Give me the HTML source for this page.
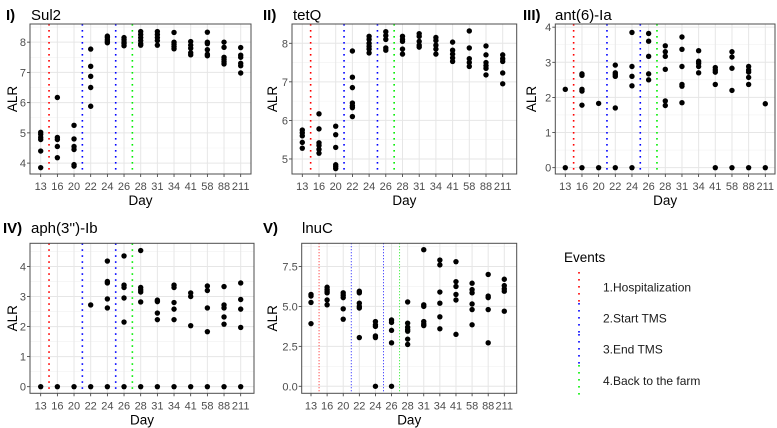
<!DOCTYPE html>
<html><head><meta charset="utf-8">
<style>
html,body{margin:0;padding:0;background:#fff;}
svg{display:block;font-family:"Liberation Sans",sans-serif;}
</style></head>
<body>
<svg id="chart" width="777" height="428" viewBox="0 0 777 428"></svg>
<script>
const days = ["13","16","20","22","24","26","28","31","34","41","58","88","211"];
const eventNames = ["1.Hospitalization","2.Start TMS","3.End TMS","4.Back to the farm"];
const eventPositions = [0.5, 2.5, 4.5, 5.5];
const eventColors = ["#ff0000","#0000ff","#0000ff","#00ee00"];

const sul2Values = [[5.02,4.95,4.85,4.78,4.4,3.85],[6.17,4.85,4.78,4.55,4.18],[5.25,4.8,4.55,4.45,3.95,3.9],[7.77,7.2,6.87,6.5,5.88],[8.2,8.15,8.08,8.02,7.98],[8.15,8.08,8.0,7.95,7.88],[8.35,8.25,8.15,8.05,7.95,7.9],[8.35,8.25,8.15,8.05,7.9],[8.32,8.0,7.93,7.85,7.78],[8.02,7.9,7.8,7.65,7.58],[8.33,8.0,7.95,7.75,7.6,7.55],[8.0,7.83,7.5,7.43,7.35,7.28],[7.82,7.57,7.5,7.3,7.22,6.98]];
const tetQValues = [[5.75,5.68,5.6,5.43,5.28],[6.17,5.78,5.42,5.35,5.25,5.15],[5.85,5.63,5.3,4.85,4.8,4.75],[7.8,7.12,6.85,6.45,6.38,6.33,6.1],[8.18,8.1,8.0,7.92,7.85,7.75],[8.3,8.2,8.1,7.88,7.82],[8.18,8.1,8.05,7.85,7.72],[8.25,8.18,8.05,7.95,7.9],[8.15,8.07,7.95,7.85,7.72],[8.03,7.82,7.72,7.62,7.53],[8.32,7.88,7.6,7.5,7.4],[7.93,7.7,7.5,7.42,7.35,7.18],[7.7,7.6,7.53,7.23,6.95]];
const antValues = [[2.23,0],[2.67,2.63,2.23,2.18,1.78,0],[1.83,0],[2.92,2.7,2.65,2.6,1.7,0],[3.85,2.88,2.6,2.33,0],[3.82,3.6,3.17,2.67,2.5],[3.47,3.3,3.17,2.8,1.9,1.77],[3.72,3.37,2.88,2.37,2.32,1.85],[3.33,3.03,2.97,2.88,2.7],[2.85,2.78,2.72,2.37,0],[3.3,3.15,2.83,2.2,0],[2.88,2.78,2.72,2.57,2.37,0],[1.82,0]];
const aphValues = [[0],[0],[0],[2.72,0],[4.18,3.5,3.45,2.92,2.62,0],[4.35,3.38,3.3,2.95,2.15,0],[4.53,3.3,3.22,3.15,2.82,0],[2.88,2.83,2.45,2.23,0],[3.38,3.3,2.8,2.58,2.23,0],[3.12,3.0,2.03,0],[3.35,3.2,2.62,1.83,0],[3.33,2.72,2.62,2.32,2.08,0],[3.45,2.9,2.58,1.97,0]];
const lnuCValues = [[5.75,5.65,5.25,3.92],[6.2,6.05,5.95,5.85,5.4,5.1],[5.85,5.7,5.55,4.85,4.2],[5.95,5.85,5.2,5.0,4.9,3.05],[4.05,3.85,3.75,3.15,3.05,0],[4.15,4.0,3.5,2.72,0],[5.28,3.95,3.7,3.55,3.45,2.95,2.62],[8.55,5.1,5.0,4.05,3.9,3.8],[7.9,7.6,5.9,5.2,4.35,3.6],[7.8,6.55,6.25,5.75,5.4,3.25],[6.45,6.05,5.85,5.15,4.8,3.85],[7.0,5.65,5.55,4.8,2.72],[6.7,6.3,6.1,5.95,4.7]];

const sul2Ticks = [4,5,6,7,8];
const tetQTicks = [5,6,7,8];
const antTicks = [0,1,2,3,4];
const aphTicks = [0,1,2,3,4];
const lnuCTicks = [0,2.5,5,7.5];

const NS = "http://www.w3.org/2000/svg";
const svg = document.getElementById("chart");
function mk(tag, attrs, parent){
  const e = document.createElementNS(NS, tag);
  for (const k in attrs) e.setAttribute(k, attrs[k]);
  (parent||svg).appendChild(e);
  return e;
}

const layouts = [
  {key:"sul2", roman:"I)", gene:"Sul2", values:sul2Values, ticks:sul2Ticks, dec:0, L:30, R:251, T:24, B:174, x0:40.7, x1:240.7, yMin:3.64, yMax:8.6, romanX:6, geneX:31, titleY:20, ylabX:12, thin:false},
  {key:"tetq", roman:"II)", gene:"tetQ", values:tetQValues, ticks:tetQTicks, dec:0, L:292, R:516.7, T:24, B:174, x0:302.3, x1:502.7, yMin:4.61, yMax:8.5, romanX:263, geneX:293, titleY:20, ylabX:272, thin:false},
  {key:"ant6", roman:"III)", gene:"ant(6)-Ia", values:antValues, ticks:antTicks, dec:0, L:555.3, R:775, T:24, B:174, x0:565.3, x1:765.3, yMin:-0.18, yMax:4.09, romanX:523, geneX:555, titleY:20, ylabX:531, thin:false},
  {key:"aph3", roman:"IV)", gene:"aph(3'')-Ib", values:aphValues, ticks:aphTicks, dec:0, L:30, R:254, T:243.3, B:393.3, x0:40.7, x1:240.7, yMin:-0.22, yMax:4.77, romanX:3, geneX:31, titleY:233, ylabX:12, thin:false},
  {key:"lnuc", roman:"V)", gene:"lnuC", values:lnuCValues, ticks:lnuCTicks, dec:1, L:301.7, R:516.7, T:243.3, B:393.3, x0:311, x1:504.3, yMin:-0.44, yMax:8.95, romanX:263, geneX:302, titleY:233, ylabX:272, thin:true}
];

layouts.forEach(p => {
  const g = mk("g", {});
  
  
  const xs = i => p.x0 + (p.x1 - p.x0) * i / (days.length - 1);
  const ys = v => p.B - (v - p.yMin) / (p.yMax - p.yMin) * (p.B - p.T);
  const step = p.ticks[1] - p.ticks[0];
  for (let v = p.ticks[0] - step / 2; v <= p.yMax; v += step) {
    if (v < p.yMin) continue;
    mk("line", {x1:p.L, x2:p.R, y1:ys(v), y2:ys(v), stroke:"#f2f2f2", "stroke-width":0.6}, g);
  }
  p.ticks.forEach(v => {
    mk("line", {x1:p.L, x2:p.R, y1:ys(v), y2:ys(v), stroke:"#e6e6e6", "stroke-width":1}, g);
    const t = mk("text", {x:p.L - 4, y:ys(v) + 4, "text-anchor":"end", "font-size":11, fill:"#4d4d4d"}, g);
    t.textContent = p.dec ? v.toFixed(1) : String(v);
    
    
  });
  days.forEach((d, i) => {
    mk("line", {x1:xs(i), x2:xs(i), y1:p.T, y2:p.B, stroke:"#e6e6e6", "stroke-width":1}, g);
    mk("line", {x1:xs(i), x2:xs(i), y1:p.B, y2:p.B + 3, stroke:"#333", "stroke-width":0.8}, g);
    const t = mk("text", {x:xs(i), y:p.B + 16, "text-anchor":"middle", "font-size":11, fill:"#4d4d4d"}, g);
    t.textContent = d;
    
    
  });
  p.ticks.forEach(v => mk("line", {x1:p.L - 3, x2:p.L, y1:ys(v), y2:ys(v), stroke:"#333", "stroke-width":0.8}, g));
  eventPositions.forEach((pos, k) => {
    const l = mk("line", {x1:xs(pos), x2:xs(pos), y1:p.T, y2:p.B, stroke:eventColors[k],
      "stroke-width": p.thin ? 0.9 : 1.6, "stroke-dasharray": p.thin ? "1 2" : "1.6 4.4"}, g);
    
    
  });
  p.values.forEach((arr, i) => {
    arr.forEach(v => {
      const c = mk("circle", {cx:xs(i), cy:ys(v), r:2.7, fill:"#000"}, g);
      
      
    });
  });
  const box = mk("rect", {x:p.L, y:p.T, width:p.R - p.L, height:p.B - p.T, fill:"none", stroke:"#4d4d4d", "stroke-width":1}, g);
  
  
  const r = mk("text", {x:p.romanX, y:p.titleY, "font-size":15, "font-weight":"bold", fill:"#000"}, g);
  r.textContent = p.roman;
  
  
  const gt = mk("text", {x:p.geneX, y:p.titleY, "font-size":15, fill:"#000"}, g);
  gt.textContent = p.gene;
  
  
  const xt = mk("text", {x:(p.L + p.R) / 2, y:p.B + 31, "text-anchor":"middle", "font-size":13.5, fill:"#000"}, g);
  xt.textContent = "Day";
  
  
  const cy = (p.T + p.B) / 2;
  const yt = mk("text", {x:p.ylabX, y:cy, "text-anchor":"middle", "font-size":13.5, fill:"#000", transform:"rotate(-90 " + p.ylabX + " " + cy + ")", dy:"5"}, g);
  yt.textContent = "ALR";
  
  
});

const lg = mk("g", {});


const lt = mk("text", {x:564, y:262, "font-size":13.5, fill:"#000"}, lg);
lt.textContent = "Events";


const legSegs = [[272,303],[303,334],[334,365],[365,397]];
eventNames.forEach((name, k) => {
  const l = mk("line", {x1:579, x2:579, y1:legSegs[k][0], y2:legSegs[k][1], stroke:eventColors[k], "stroke-width":1.6, "stroke-dasharray":"1.6 5.4"}, lg);
  
  
  const t = mk("text", {x:603, y:(legSegs[k][0] + legSegs[k][1]) / 2 + 4, "font-size":12, fill:"#1a1a1a"}, lg);
  t.textContent = name;
  
  
});
</script>
</body></html>
